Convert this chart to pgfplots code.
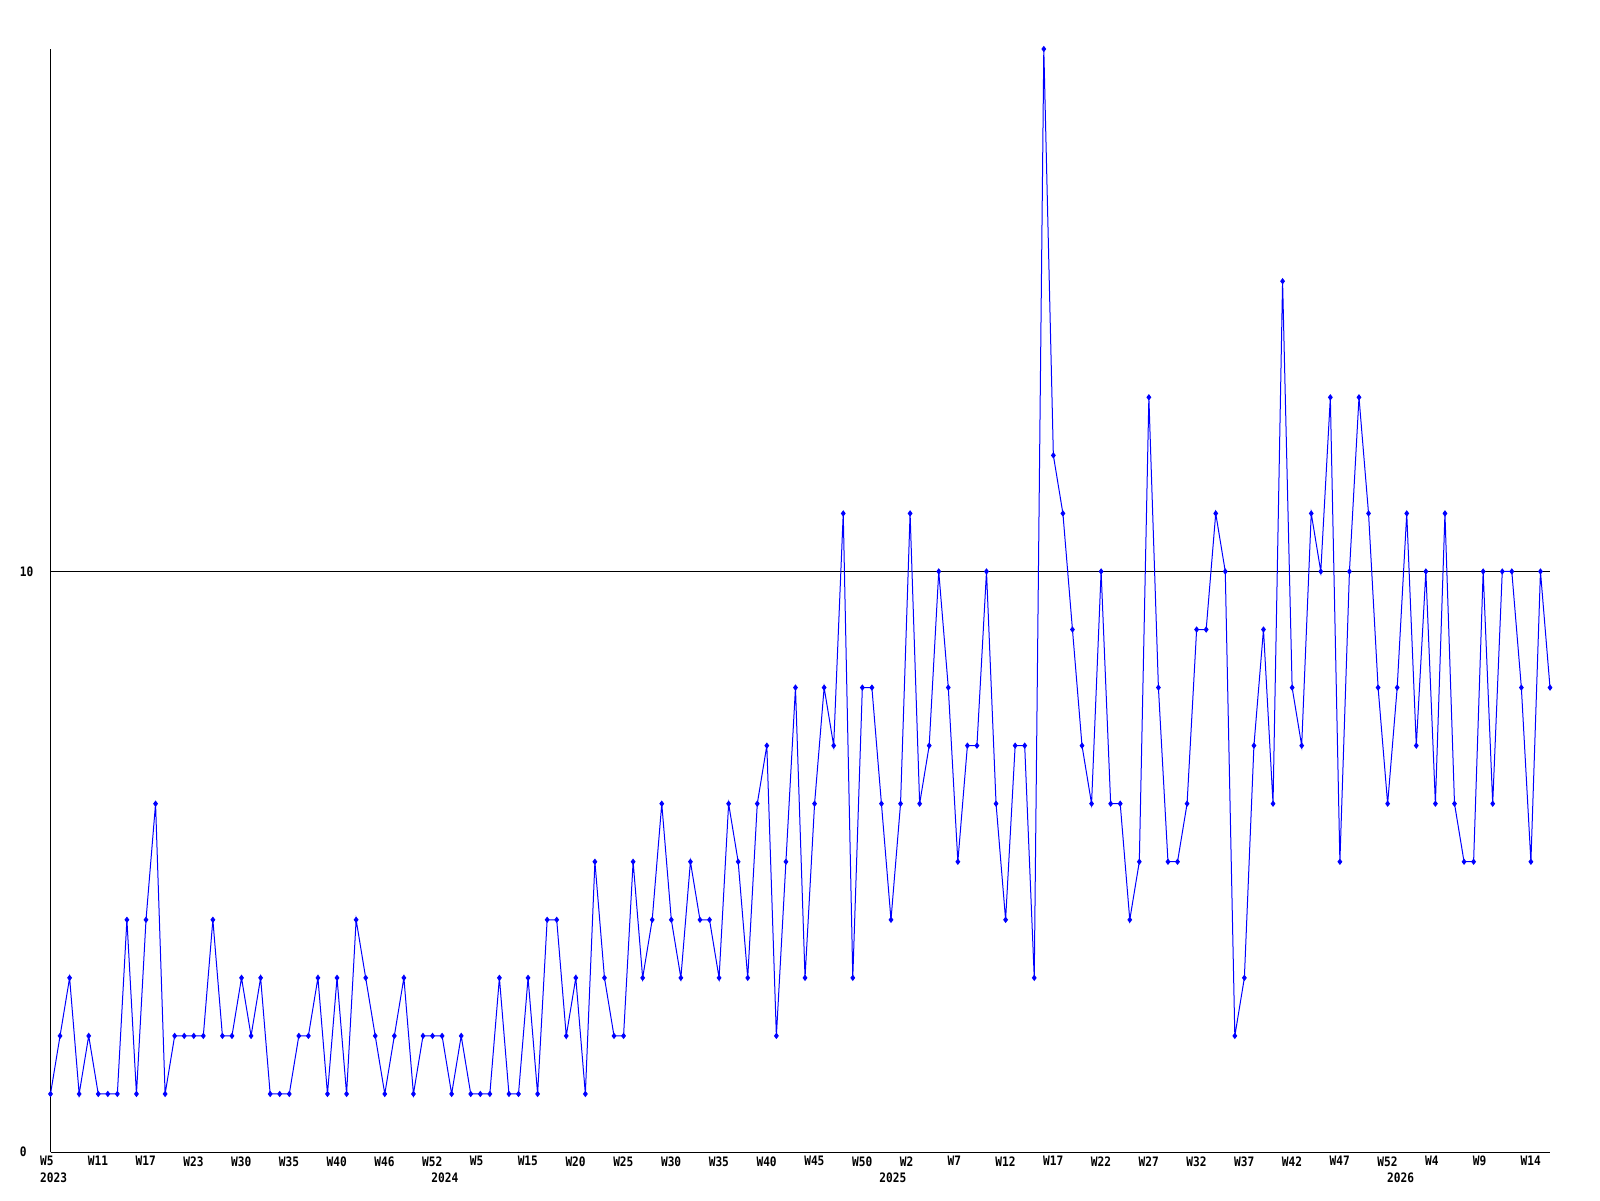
\documentclass[border=0pt]{standalone}
\usepackage{fontspec}
\usepackage{pgfplots}
\pgfplotsset{compat=1.18}
\newfontfamily\labfont[FakeStretch=0.86]{DejaVu Sans Mono}
\newcommand{\lf}{\fontsize{6.5}{6.5}\selectfont\labfont\bfseries}
\pgfplotstableread{
x y
0 1
1 2
2 3
3 1
4 2
5 1
6 1
7 1
8 4
9 1
10 4
11 6
12 1
13 2
14 2
15 2
16 2
17 4
18 2
19 2
20 3
21 2
22 3
23 1
24 1
25 1
26 2
27 2
28 3
29 1
30 3
31 1
32 4
33 3
34 2
35 1
36 2
37 3
38 1
39 2
40 2
41 2
42 1
43 2
44 1
45 1
46 1
47 3
48 1
49 1
50 3
51 1
52 4
53 4
54 2
55 3
56 1
57 5
58 3
59 2
60 2
61 5
62 3
63 4
64 6
65 4
66 3
67 5
68 4
69 4
70 3
71 6
72 5
73 3
74 6
75 7
76 2
77 5
78 8
79 3
80 6
81 8
82 7
83 11
84 3
85 8
86 8
87 6
88 4
89 6
90 11
91 6
92 7
93 10
94 8
95 5
96 7
97 7
98 10
99 6
100 4
101 7
102 7
103 3
104 19
105 12
106 11
107 9
108 7
109 6
110 10
111 6
112 6
113 4
114 5
115 13
116 8
117 5
118 5
119 6
120 9
121 9
122 11
123 10
124 2
125 3
126 7
127 9
128 6
129 15
130 8
131 7
132 11
133 10
134 13
135 5
136 10
137 13
138 11
139 8
140 6
141 8
142 11
143 7
144 10
145 6
146 11
147 6
148 5
149 5
150 10
151 6
152 10
153 10
154 8
155 5
156 10
157 8
}\datatable
\begin{document}
\begin{tikzpicture}
\path[use as bounding box] (0,0) rectangle (800pt,600pt);
\begin{axis}[
  at={(25.25pt,24pt)}, anchor=south west,
  scale only axis, width=749.75pt, height=551.5pt,
  xmin=0, xmax=157, ymin=0, ymax=19,
  axis x line=bottom, axis y line=left,
  axis line style={-, black, line width=0.5pt},
  ytick={0,10}, yticklabels={0,10},
  ymajorgrids, grid style={black, line width=0.5pt},
  major tick length=0pt,
  xtick={0,5,...,155},
  xticklabels={W5,W11,W17,W23,W30,W35,W40,W46,W52,W5,W15,W20,W25,W30,W35,W40,W45,W50,W2,W7,W12,W17,W22,W27,W32,W37,W42,W47,W52,W4,W9,W14},
  xticklabel style={anchor=north west, inner sep=0pt, xshift=-5.35pt, yshift=-2pt, font=\lf},
  yticklabel style={anchor=west, inner sep=0pt, xshift=-15.5pt, font=\lf},
  clip=false,
]
\addplot[blue, line width=0.5pt, mark=diamond*, mark size=1.2pt, mark options={fill=blue}] table[x=x,y=y] {\datatable};
\node[anchor=north west, inner sep=0pt, font=\lf, yshift=-10pt] at (axis cs:-1.12,0) {2023};
\node[anchor=north west, inner sep=0pt, font=\lf, yshift=-10pt] at (axis cs:39.84,0) {2024};
\node[anchor=north west, inner sep=0pt, font=\lf, yshift=-10pt] at (axis cs:86.74,0) {2025};
\node[anchor=north west, inner sep=0pt, font=\lf, yshift=-10pt] at (axis cs:139.9,0) {2026};
\end{axis}
\end{tikzpicture}
\end{document}
